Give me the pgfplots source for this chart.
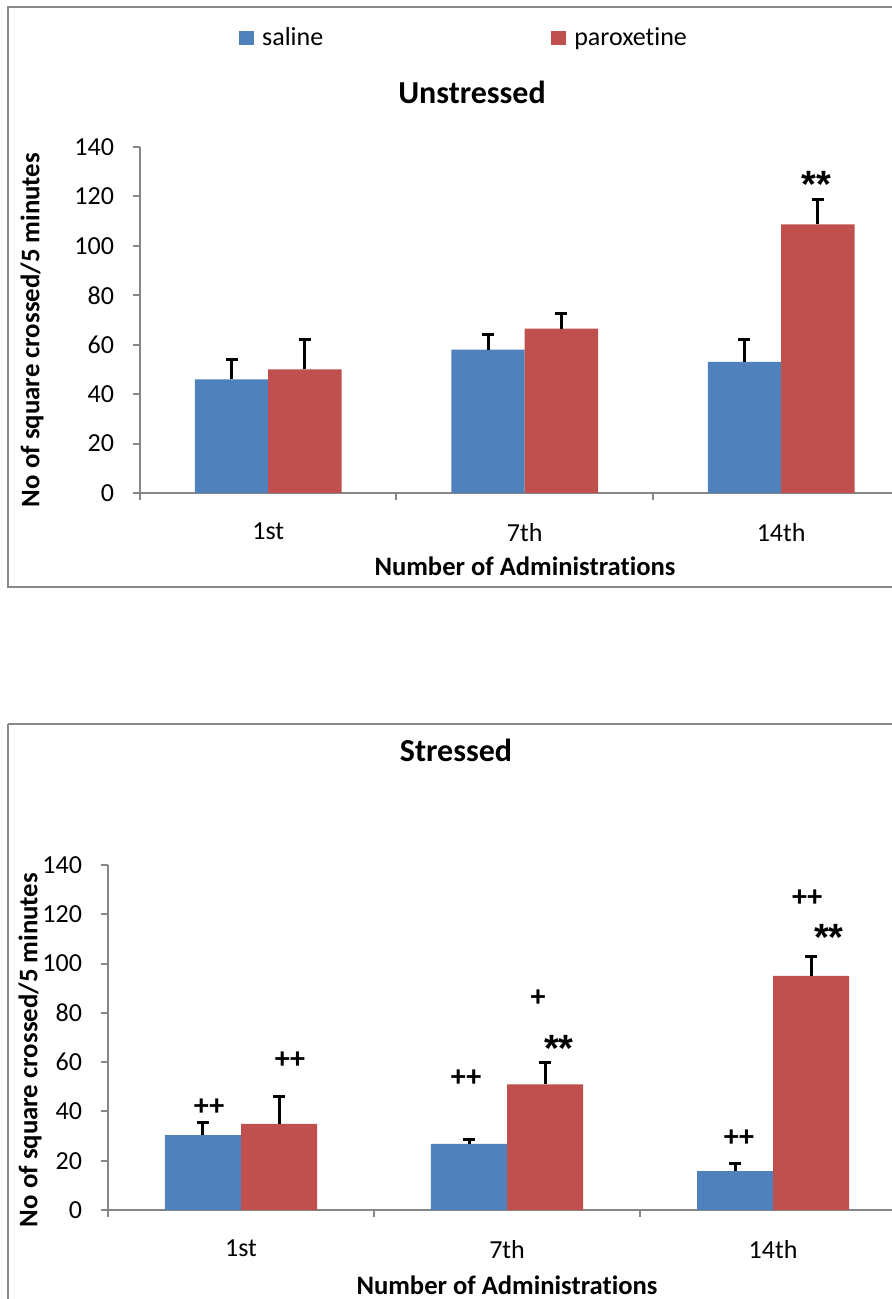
\documentclass[border=0pt]{standalone}
\usepackage{fontspec}
\setmainfont{Carlito}[Ligatures=NoCommon]
\newfontfamily\astfont{Liberation Sans}
\usepackage{pgfplots}
\pgfplotsset{compat=1.18}
\definecolor{sal}{HTML}{4F81BD}
\definecolor{par}{HTML}{C0504D}
\definecolor{axgray}{HTML}{868686}
\definecolor{framegray}{HTML}{898989}

\pgfplotsset{
 mybar/.style={
  scale only axis,
  ymin=0, ymax=140, ytick={0,20,...,140},
  xmin=-0.5,
  axis x line=bottom, axis y line=left,
  axis line style={axgray, line width=1pt, -},
  tick align=outside,
  major tick length=3.5pt,
  tick style={axgray, line width=1pt},
  xtick={-0.5,0.5,1.5,2.5}, xticklabels={},
  extra x ticks={0,1,2}, extra x tick labels={1st,7th,14th},
  extra x tick style={tick style={draw=none}},
  ticklabel style={font=\fontsize{13}{15}\selectfont, text=black},
  /pgf/number format/assume math mode=true,
  yticklabel style={xshift=-6pt},
  xticklabel style={yshift=-8pt},
  clip=false,
 },
 errs/.style={
  error bars/.cd, y dir=plus, y explicit,
  error bar style={black, line width=1.5pt},
  error mark options={black, rotate=90, mark size=3pt, line width=1.5pt},
 },
}
\newcommand{\astf}{\fontsize{19}{21}\selectfont\astfont\bfseries}
\newcommand{\plsf}{\fontsize{15}{17}\selectfont\bfseries}

\begin{document}
\begin{tikzpicture}[x=0.5pt, y=0.5pt]
\useasboundingbox (0,0) rectangle (892,1299);
% frames
\draw[framegray, line width=1.25pt] (8,1292) rectangle (905,712);
\draw[framegray, line width=1.25pt] (8,575) -- (905,575);
\draw[framegray, line width=1.25pt] (8,575) -- (8,-10);

% ---------- Unstressed ----------
\begin{axis}[mybar,
  at={(70pt,403pt)}, anchor=south west,
  width=377pt, height=173pt, xmax=2.44,
  legend columns=2,
  legend style={draw=none, fill=none, inner sep=0pt, at={(0.131,1.315)}, anchor=west,
    font=\fontsize{13}{15}\selectfont,
    /tikz/every even column/.append style={column sep=112pt}},
  legend image code/.code={\fill[#1] (0pt,-3.5pt) rectangle (7.5pt,3.5pt); \path (9.5pt,0pt);},
]
% saline at category-0.143, paroxetine at category+0.143
\addplot[ybar, bar width=0.286, bar shift=0pt, fill=sal, draw=none, errs]
  coordinates {(-0.143,46) +- (0,8) (0.857,58) +- (0,6) (1.857,53) +- (0,9)};
\addplot[ybar, bar width=0.286, bar shift=0pt, fill=par, draw=none, errs]
  coordinates {(0.143,50) +- (0,12) (1.143,66.5) +- (0,6) (2.143,108.7) +- (0,10.2)};
\legend{saline, paroxetine}
\node[font=\astf] at (axis cs:2.136,125) {**};
\end{axis}
\node[font=\fontsize{16}{19}\selectfont\bfseries] at (472,1207) {Unstressed};
\node[font=\fontsize{13.3}{16}\selectfont\bfseries] at (525,733) {Number of Administrations};
\node[font=\fontsize{13.4}{16}\selectfont\bfseries, rotate=90] at (32,969) {No of square crossed/5 minutes};

% ---------- Stressed ----------
\begin{axis}[mybar,
  at={(54pt,44.5pt)}, anchor=south west,
  width=392pt, height=172.5pt, xmax=2.447,
]
\addplot[ybar, bar width=0.286, bar shift=0pt, fill=sal, draw=none, errs]
  coordinates {(-0.143,30.4) +- (0,5) (0.857,26.8) +- (0,2) (1.857,15.8) +- (0,3)};
\addplot[ybar, bar width=0.286, bar shift=0pt, fill=par, draw=none, errs]
  coordinates {(0.143,35) +- (0,11) (1.143,51) +- (0,9) (2.143,95) +- (0,8)};
\node[font=\plsf] at (axis cs:-0.12,41.8) {++};
\node[font=\plsf] at (axis cs:0.184,60.9) {++};
\node[font=\plsf] at (axis cs:0.846,53.6) {++};
\node[font=\plsf] at (axis cs:1.117,86) {+};
\node[font=\astf] at (axis cs:1.195,65.6) {**};
\node[font=\plsf] at (axis cs:1.872,29.2) {++};
\node[font=\plsf] at (axis cs:2.128,126.6) {++};
\node[font=\astf] at (axis cs:2.21,110.5) {**};
\end{axis}
\node[font=\fontsize{16}{19}\selectfont\bfseries] at (456,549) {Stressed};
\node[font=\fontsize{13.3}{16}\selectfont\bfseries] at (507,14) {Number of Administrations};
\node[font=\fontsize{13.4}{16}\selectfont\bfseries, rotate=90] at (30,249) {No of square crossed/5 minutes};
\end{tikzpicture}
\end{document}
